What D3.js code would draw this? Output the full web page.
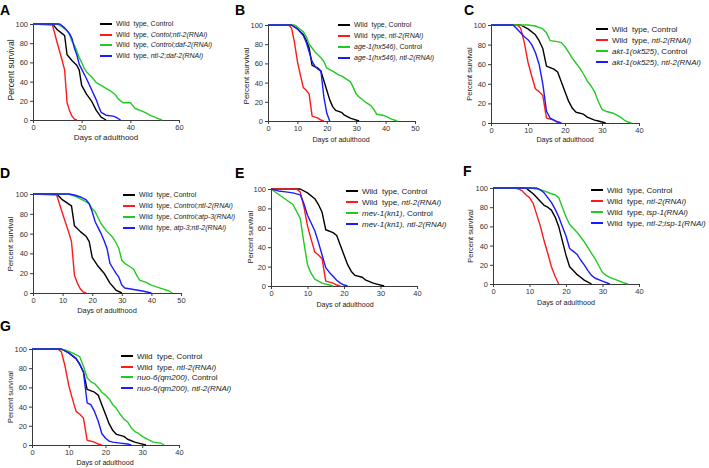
<!DOCTYPE html>
<html><head><meta charset="utf-8">
<script src="https://cdn.jsdelivr.net/npm/d3@7"></script>
<style>
html,body{margin:0;padding:0;background:#fff;}
svg{display:block;font-family:"Liberation Sans",Arial,sans-serif;}
text{white-space:pre;}
</style></head>
<body><svg id="chart" width="709" height="468"></svg>
<script>
// ---------- DATA (day, percent survival) ----------
// Wild type, Control / ntl-2(RNAi) used in panels B, C, E, G
const wtControl = [[0,100],[8,100],[10,96],[12,90],[13,84],[14,76],[15,58],[17,55],[18,52],[19,42],[20,32],[21,22],[22,15],[23,11],[25,9],[26,6],[28,3],[29,2],[31,0]];
const wtNtl2 = [[0,100],[7,100],[8,97],[9,82],[10,62],[11,48],[12,35],[13,32],[14,28],[15,5],[17,3],[18,1],[19,0]];
// Wild type curves of panels A and D
const wtControlAD = [[0,100],[8,100],[9,97],[10,94],[12,90],[13,88],[14,68],[16,62],[18,57],[19,52],[20,36],[22,27],[24,20],[26,10],[28,3],[30,0]];
const wtNtl2AD = [[0,100],[8,99],[10,80],[12,62],[13,52],[14,18],[15,10],[16,4],[17,1],[18,0]];
// Panel A
const daf2Control = [[0,100],[10,100],[12,97],[14,93],[15,89],[16,82],[17,78],[18,72],[19,65],[20,60],[21,54],[22,50],[24,45],[26,39],[28,36],[30,33],[32,30],[34,26],[35,22],[37,18],[40,18],[41,15],[42,12],[44,10],[46,8],[48,5],[50,3],[52,1],[53,0]];
const ntl2Daf2 = [[0,100],[11,100],[13,96],[14,93],[15,90],[16,85],[17,75],[18,68],[19,58],[20,53],[22,43],[24,32],[26,21],[27,14],[28,8],[30,5],[33,4],[34,3],[36,0]];
// Panel B
const age1Control = [[0,100],[9,100],[10,98],[12,93],[13,88],[14,80],[15,76],[16,72],[18,66],[19,62],[20,55],[22,52],[24,48],[25,47],[26,45],[28,41],[29,35],[30,28],[31,25],[33,20],[35,16],[36,12],[37,7],[39,6],[40,5],[42,2],[44,0]];
const age1Ntl2 = [[0,100],[8,100],[10,96],[12,89],[13,82],[14,72],[15,62],[16,57],[17,54],[18,52],[19,25],[20,8],[21,0]];
// Panel C
const akt1Control = [[0,100],[10,100],[12,99],[14,96],[15,92],[16,84],[18,83],[19,82],[20,78],[21,72],[22,66],[23,61],[24,56],[25,50],[26,43],[27,38],[28,32],[29,22],[30,14],[31,12],[33,10],[34,8],[35,6],[36,3],[37,1],[38,0]];
const akt1Ntl2 = [[0,100],[6,100],[8,92],[9,88],[10,85],[11,80],[12,72],[13,60],[14,40],[15,12],[16,5],[18,1],[19,0]];
// Panel D
const atp3Control = [[0,100],[12,100],[14,98],[16,95],[18,92],[19,90],[20,85],[21,82],[22,76],[23,70],[24,66],[25,62],[26,59],[27,56],[28,51],[29,45],[30,33],[31,30],[32,28],[34,24],[35,18],[36,13],[38,11],[40,8],[42,6],[44,4],[46,2],[47,0]];
const atp3Ntl2 = [[0,100],[12,100],[14,99],[16,97],[18,94],[19,90],[20,82],[21,72],[22,66],[23,60],[24,53],[25,45],[26,30],[27,25],[28,20],[29,16],[30,8],[31,5],[33,4],[35,3],[37,2],[40,0]];
// Panel E
const mev1Control = [[0,100],[3,92],[6,84],[8,70],[9,45],[10,22],[11,13],[12,7],[14,3],[16,1],[17,0]];
const mev1Ntl2 = [[0,100],[2,98],[4,97],[6,96],[8,94],[9,85],[10,73],[11,65],[12,57],[13,45],[14,32],[15,19],[16,14],[17,10],[18,6],[19,3],[20,1],[21,0]];
// Panel F
const wtControlF = [[0,100],[9,100],[10,97],[11,94],[12,90],[13,86],[14,82],[15,80],[16,77],[17,70],[18,60],[19,45],[20,30],[21,18],[22,14],[23,10],[24,7],[25,4],[26,2],[27,0]];
const wtNtl2F = [[0,100],[6,100],[7,99],[8,97],[9,93],[10,90],[11,84],[12,72],[13,60],[14,45],[15,32],[16,18],[17,8],[18,0]];
const isp1 = [[0,100],[10,100],[12,99],[14,97],[16,94],[17,93],[18,90],[19,80],[20,70],[21,62],[22,58],[23,54],[24,49],[25,44],[26,38],[27,32],[28,26],[29,19],[30,12],[31,9],[32,7],[34,4],[36,1],[37,0]];
const ntl2Isp1 = [[0,100],[12,100],[13,98],[14,95],[15,90],[16,85],[17,78],[18,70],[19,60],[20,50],[21,37],[22,34],[23,31],[24,25],[25,20],[26,14],[27,9],[28,6],[30,3],[32,0]];
// Panel G
const nuo6Control = [[0,100],[7,100],[9,99],[11,96],[13,92],[14,82],[15,70],[16,66],[17,64],[18,60],[19,55],[20,52],[21,48],[22,42],[23,38],[24,32],[25,27],[26,24],[27,18],[28,14],[29,12],[30,9],[31,7],[33,3],[35,2],[36,0]];
const nuo6Ntl2 = [[0,100],[8,100],[10,96],[12,90],[13,84],[14,76],[15,44],[16,42],[17,35],[18,25],[19,12],[20,7],[21,4],[22,3],[24,2],[26,1],[27,0]];

// Ticks
const yTicks = [0,20,40,60,80,100];
const xTicks60 = [0,20,40,60];
const xTicks50 = [0,10,20,30,40,50];
const xTicks40 = [0,10,20,30,40];

// Legend labels: segments of [text, italic]
const legendA = [[["Wild  type, Control",0]],[["Wild  type, ",0],["Contol;ntl-2(RNAi)",1]],[["Wild  type, ",0],["Control;daf-2(RNAi)",1]],[["Wild  type, ",0],["ntl-2;daf-2(RNAi)",1]]];
const legendB = [[["Wild  type, Control",0]],[["Wild  type, ",0],["ntl-2(RNAi)",1]],[["age-1(hx546)",1],[", Control",0]],[["age-1(hx546), ntl-2(RNAi)",1]]];
const legendC = [[["Wild  type, Control",0]],[["Wild  type, ",0],["ntl-2(RNAi)",1]],[["akt-1(ok525)",1],[", Control",0]],[["akt-1(ok525), ntl-2(RNAi)",1]]];
const legendD = [[["Wild  type, Control",0]],[["Wild  type, ",0],["Control;ntl-2(RNAi)",1]],[["Wild  type, ",0],["Control;atp-3(RNAi)",1]],[["Wild  type, ",0],["atp-3;ntl-2(RNAi)",1]]];
const legendE = [[["Wild  type, Control",0]],[["Wild  type, ",0],["ntl-2(RNAi)",1]],[["mev-1(kn1)",1],[", Control",0]],[["mev-1(kn1), ntl-2(RNAi)",1]]];
const legendF = [[["Wild  type, Control",0]],[["Wild  type, ",0],["ntl-2(RNAi)",1]],[["Wild  type, ",0],["isp-1(RNAi)",1]],[["Wild  type, ",0],["ntl-2;isp-1(RNAi)",1]]];
const legendG = [[["Wild  type, Control",0]],[["Wild  type, ",0],["ntl-2(RNAi)",1]],[["nuo-6(qm200)",1],[", Control",0]],[["nuo-6(qm200), ntl-2(RNAi)",1]]];

const seriesColors = ["#000000","#ff1a1a","#22c922","#1a1aff"];

// ---------- LAYOUT ----------
const panels = [
  {letter:"A", lx:0, ly:15, x0:33, x1:179, xmax:60, xt:xTicks60, y100:24, y0:120,
   series:[wtControlAD,wtNtl2AD,daf2Control,ntl2Daf2], legend:legendA,
   legX:100, legRows:[24,35,45,56], legFont:7, xlab:[106,140], xlabFont:8, ylab:[10.5,70], ylabFont:8.6},
  {letter:"B", lx:235, ly:15, x0:268, x1:415, xmax:50, xt:xTicks50, y100:25, y0:121,
   series:[wtControl,wtNtl2,age1Control,age1Ntl2], legend:legendB,
   legX:338, legRows:[25,36,47,58], legFont:7, xlab:[341,141.5], xlabFont:7.1, ylab:[246,76], ylabFont:8},
  {letter:"C", lx:464, ly:15, x0:491, x1:639, xmax:40, xt:xTicks40, y100:25, y0:123,
   series:[wtControl,wtNtl2,akt1Control,akt1Ntl2], legend:legendC,
   legX:596, legRows:[29,40,51,62], legFont:8, xlab:[565,141.5], xlabFont:7.1, ylab:[469,74], ylabFont:7.5},
  {letter:"D", lx:0, ly:178, x0:33, x1:181, xmax:50, xt:xTicks50, y100:194, y0:293,
   series:[wtControlAD,wtNtl2AD,atp3Control,atp3Ntl2], legend:legendD,
   legX:123, legRows:[195,206,217,228], legFont:7, xlab:[107,312.5], xlabFont:7.4, ylab:[10.5,244], ylabFont:7.7},
  {letter:"E", lx:235, ly:178, x0:271, x1:417, xmax:40, xt:xTicks40, y100:189, y0:286,
   series:[wtControl,wtNtl2,mev1Control,mev1Ntl2], legend:legendE,
   legX:346, legRows:[191,202,213,224], legFont:8, xlab:[345,306.5], xlabFont:7.1, ylab:[250,237], ylabFont:7.4},
  {letter:"F", lx:463, ly:176, x0:493, x1:639, xmax:40, xt:xTicks40, y100:188, y0:284,
   series:[wtControlF,wtNtl2F,isp1,ntl2Isp1], legend:legendF,
   legX:591, legRows:[190,201,212,223], legFont:8, xlab:[566,304.5], xlabFont:7.2, ylab:[470,236], ylabFont:7.5},
  {letter:"G", lx:0, ly:331, x0:32, x1:179, xmax:40, xt:xTicks40, y100:349, y0:445,
   series:[wtControl,wtNtl2,nuo6Control,nuo6Ntl2], legend:legendG,
   legX:121, legRows:[356,367,377,388], legFont:8, xlab:[105,464.5], xlabFont:7.1, ylab:[10.5,397], ylabFont:7.3}
];

const svg = d3.select("#chart");

panels.forEach(p => {
  const g = svg.append("g");
  const x = d3.scaleLinear().domain([0, p.xmax]).range([p.x0, p.x1]);
  const y = d3.scaleLinear().domain([0, 100]).range([p.y0, p.y100]);

  // axes
  const ya = g.append("g").attr("transform", `translate(${p.x0},0)`)
    .call(d3.axisLeft(y).tickValues(yTicks).tickSize(3).tickSizeOuter(0).tickPadding(2));
  const xa = g.append("g").attr("transform", `translate(0,${p.y0})`)
    .call(d3.axisBottom(x).tickValues(p.xt).tickSize(3).tickSizeOuter(0).tickPadding(2));
  [ya, xa].forEach(a => {
    a.select(".domain").attr("stroke", "#3a3a3a").attr("stroke-width", 1);
    a.selectAll(".tick line").attr("stroke", "#3a3a3a");
    a.selectAll(".tick text").attr("fill", "#333").style("font-size", "7.5px")
      .style("font-family", '"Liberation Sans",Arial,sans-serif');
  });

  // curves
  const line = d3.line().x(d => x(d[0])).y(d => y(d[1]));
  p.series.forEach((s, i) => {
    g.append("path").datum(s).attr("d", line).attr("fill", "none")
      .attr("stroke", seriesColors[i]).attr("stroke-width", 1.4).attr("stroke-linejoin", "round");
  });
  // redraw black and red on top? keep order: black, red, green, blue

  // legend
  p.legend.forEach((segs, i) => {
    const ry = p.legRows[i];
    g.append("line").attr("x1", p.legX).attr("x2", p.legX + 12).attr("y1", ry).attr("y2", ry)
      .attr("stroke", seriesColors[i]).attr("stroke-width", 2);
    const t = g.append("text").attr("x", p.legX + 16).attr("y", ry).attr("dy", "0.35em")
      .attr("fill", "#222").style("font-size", p.legFont + "px");
    segs.forEach(sg => {
      t.append("tspan").text(sg[0]).style("font-style", sg[1] ? "italic" : "normal");
    });
  });

  // axis labels
  g.append("text").attr("x", p.xlab[0]).attr("y", p.xlab[1]).attr("text-anchor", "middle")
    .attr("fill", "#222").style("font-size", p.xlabFont + "px").text("Days of adulthood");
  g.append("text").attr("transform", `translate(${p.ylab[0]},${p.ylab[1]}) rotate(-90)`)
    .attr("text-anchor", "middle").attr("dy", "0.35em")
    .attr("fill", "#222").style("font-size", p.ylabFont + "px").text("Percent survival");

  // panel letter
  g.append("text").attr("x", p.lx).attr("y", p.ly).attr("fill", "#000")
    .style("font-size", "14px").style("font-weight", "bold").text(p.letter);
});
</script></body></html>
